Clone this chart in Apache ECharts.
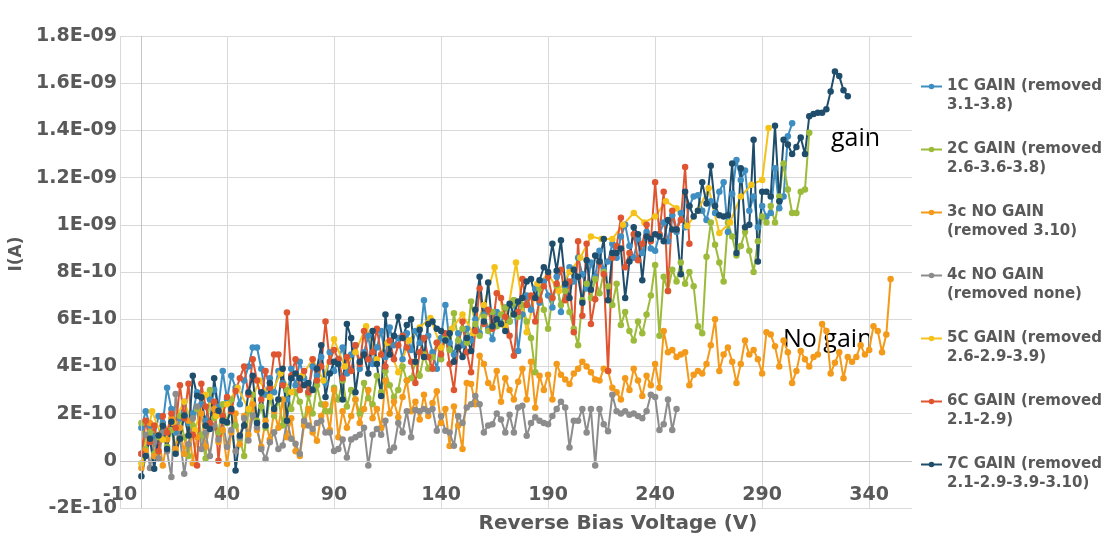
<!DOCTYPE html>
<html>
<head>
<meta charset="utf-8">
<script src="https://cdn.jsdelivr.net/npm/echarts@6/dist/echarts.min.js"></script>
<style>
html, body { margin: 0; padding: 0; background: #fff; }
#chart { width: 1109px; height: 538px; }
</style>
</head>
<body>
<div id="chart"></div>
<script>
// reverse bias sweep, currents are in units of 1e-10 A
var volts = [
  0, 2, 4, 6, 8, 10, 12, 14, 16, 18,
  20, 22, 24, 26, 28, 30, 32, 34, 36, 38,
  40, 42, 44, 46, 48, 50, 52, 54, 56, 58,
  60, 62, 64, 66, 68, 70, 72, 74, 76, 78,
  80, 82, 84, 86, 88, 90, 92, 94, 96, 98,
  100, 102, 104, 106, 108, 110, 112, 114, 116, 118,
  120, 122, 124, 126, 128, 130, 132, 134, 136, 138,
  140, 142, 144, 146, 148, 150, 152, 154, 156, 158,
  160, 162, 164, 166, 168, 170, 172, 174, 176, 178,
  180, 182, 184, 186, 188, 190, 192, 194, 196, 198,
  200, 202, 204, 206, 208, 210, 212, 214, 216, 218,
  220, 222, 224, 226, 228, 230, 232, 234, 236, 238,
  240, 242, 244, 246, 248, 250, 252, 254, 256, 258,
  260, 262, 264, 266, 268, 270, 272, 274, 276, 278,
  280, 282, 284, 286, 288, 290, 292, 294, 296, 298,
  300, 302, 304, 306, 308, 310, 312, 314, 316, 318,
  320, 322, 324, 326, 328, 330, 332, 334, 336, 338,
  340, 342, 344, 346, 348, 350
];
// 5C was logged with a coarser step
var yellowVolts = [
  0, 5, 10, 15, 20, 25, 30, 35, 40, 45,
  50, 55, 60, 65, 70, 75, 80, 85, 90, 95,
  100, 105, 110, 115, 120, 125, 130, 135, 140, 145,
  150, 155, 160, 165, 170, 175, 180, 185, 190, 195,
  200, 205, 210, 215, 220, 225, 230, 235, 240, 245,
  250, 255, 260, 265, 270, 275, 280, 285, 290, 293
];

var i1C = [
  1.4, 2.1, 1.5, 1.0, 1.9, 1.6, 3.1, 2.2, 1.2, 1.8,
  2.5, 1.6, 2.0, 2.9, 2.4, 1.7, 2.6, 3.0, 2.3, 3.8,
  2.6, 3.6, 3.1, 2.4, 3.4, 4.0, 4.8, 4.8, 3.9, 2.8,
  3.5, 2.9, 3.8, 3.3, 2.6, 3.9, 3.2, 4.2, 3.5, 2.9,
  4.0, 3.6, 4.4, 3.3, 4.6, 3.8, 4.3, 4.8, 3.7, 4.5,
  4.9, 3.9, 4.6, 5.3, 4.1, 4.8, 5.5, 4.4, 5.65, 4.9,
  5.2, 4.3, 5.4, 4.7, 5.5, 5.0, 6.8, 5.3, 4.6, 3.9,
  5.2, 6.6, 5.0, 4.5, 5.4, 4.9, 5.6, 5.1, 6.0, 5.4,
  6.2, 5.6, 5.15, 6.3, 5.8, 6.5, 5.9, 6.8, 4.65, 6.2,
  7.0, 6.4, 7.3, 6.7, 7.6, 7.0, 6.5, 7.8, 6.3, 7.4,
  8.2, 7.6, 8.6, 7.9, 7.3, 8.4, 7.8, 8.9, 8.1, 8.45,
  9.2, 8.6, 9.5, 10.0, 9.1, 8.6, 9.4, 8.8, 9.7, 9.0,
  8.9, 9.6, 10.1, 9.3, 10.4, 9.7, 10.5, 9.9, 10.8, 11.2,
  11.25, 10.6, 10.2, 11.0, 10.5, 11.4, 11.8, 9.7, 11.3, 12.75,
  11.9, 12.3, 10.6, 11.2, 9.9, 10.8, 10.35, 10.5, 12.4, 10.7,
  11.2, 13.75, 14.3
];
var i2C = [
  1.6, 0.5, 1.2, 0.3, 1.0, 1.5, 0.6, 1.3, 0.4, 1.9,
  1.0, 0.2, 1.5, 2.2, 1.1, 0.1, 3.0, 1.8, 1.2, 2.4,
  1.6, 2.6, 1.5, 0.9, 0.2, 2.1, 2.8, 1.7, 2.3, 1.4,
  2.7, 1.9, 2.6, 1.5, 3.0, 2.2, 2.9, 2.5, 1.6, 2.8,
  2.0, 3.2, 2.4, 2.1, 2.1, 3.1, 2.6, 3.4, 2.3, 3.0,
  2.6, 2.0, 3.3, 2.65, 2.4, 3.6, 2.9, 3.8, 3.2, 2.7,
  3.0, 4.0, 3.4, 3.5, 4.2, 3.6, 4.5, 3.9, 4.4, 5.0,
  4.3, 5.2, 4.7, 6.25, 5.1, 5.6, 5.0, 6.75, 5.8, 5.3,
  6.1, 5.5, 6.3, 5.7, 6.2, 6.5, 5.9, 6.8, 6.1, 6.6,
  5.9, 5.2, 3.75, 7.3, 6.4, 5.6, 6.9, 7.4, 6.6, 7.2,
  6.3, 5.6, 4.9, 6.8, 7.5, 6.9, 7.7, 7.1, 8.0, 7.4,
  6.6, 7.5, 5.75, 6.3, 5.5, 5.1, 5.9, 5.4, 6.2, 7.0,
  8.3, 5.3, 7.8, 7.2, 8.1, 7.6, 8.4, 7.5, 8.0, 7.4,
  5.7, 5.4, 8.65, 10.1, 9.15, 8.4, 7.6, 10.1, 9.5, 8.7,
  9.1, 9.7, 8.9, 8.0, 9.3, 10.35, 10.1, 10.8, 10.1, 11.2,
  12.6, 11.5, 10.5, 10.5, 11.4, 11.5, 13.9
];
var i3c = [
  -0.3, 0.4, 1.6, 0.2, 1.1, -0.2, 0.9, 1.8, 0.5, 1.4,
  0.3, 1.7, -0.1, 1.0, 2.0, 0.6, 1.5, 2.2, 0.8, 1.3,
  -0.13, 1.2, 2.0, 0.7, 1.9, 1.1, 2.4, 1.3, 0.6, 1.7,
  0.9, 2.1, 1.4, 2.6, 1.0, 1.8, 0.4, 0.2, 1.5, 2.2,
  1.2, 0.85, 1.9, 2.4, 1.3, 3.0, 1.0, 2.1, 1.4, 1.9,
  2.6, 1.6, 2.2, 3.0, 1.8, 2.2, 1.4, 3.4, 2.0, 2.5,
  1.85, 2.7, 3.4, 2.1, 2.5, 1.75, 2.8, 1.9, 2.45, 2.95,
  1.6, 2.2, 0.63, 2.3, 1.5, 0.5, 3.3, 3.25, 2.4, 4.45,
  4.1, 3.3, 3.1, 3.8, 2.5, 3.5, 3.0, 2.6, 3.35, 3.9,
  2.6, 4.2, 2.25, 3.6, 3.0, 3.65, 2.6, 4.1, 3.65, 3.45,
  3.25, 3.7, 3.9, 4.2, 4.0, 3.75, 3.45, 3.4, 3.9, 3.8,
  3.1, 2.9, 2.6, 3.5, 3.0, 3.9, 3.4, 2.75, 3.6, 3.2,
  4.1, 3.1, 5.5, 4.6, 4.7, 4.4, 4.5, 4.6, 3.2, 3.65,
  3.8, 3.7, 4.1, 4.9, 6.0, 3.8, 4.5, 4.8, 4.2, 3.3,
  4.1, 5.1, 4.5, 4.7, 4.3, 3.7, 5.45, 5.35, 4.85, 4.0,
  5.1, 4.6, 3.3, 3.8, 4.65, 4.3, 4.0, 4.4, 4.5, 5.8,
  5.5, 3.7, 4.15, 4.6, 3.5, 4.4, 4.2, 4.4, 4.9, 4.5,
  4.7, 5.7, 5.5, 4.6, 5.35, 7.7
];
var i4c = [
  0.3, 1.1, -0.3, 0.8, 0.1, 1.2, 0.4, -0.69, 2.83, 1.0,
  -0.55, 0.7, 1.8, 2.3, 0.5, 1.2, 0.2, 1.5, 0.9, 1.7,
  0.6, 1.3, 0.4, 1.0, 1.8, 0.86, 1.92, 1.42, 0.5, 0.08,
  0.79, 1.21, 0.5, 0.65, 1.7, 0.93, 0.72, 0.3, 1.7, 1.5,
  1.35, 1.6, 1.7, 1.2, 1.2, 0.42, 0.5, 0.9, 0.14, 0.9,
  1.0, 1.1, 1.4, -0.2, 1.1, 1.35, 1.1, 1.7, 0.42, 0.56,
  1.6, 1.2, 2.1, 1.0, 2.15, 2.1, 2.2, 2.1, 2.2, 1.27,
  1.9, 1.27, 1.2, 0.64, 1.9, 1.6, 2.26, 2.4, 2.75, 2.4,
  1.2, 1.5, 1.55, 2.0, 1.75, 1.2, 1.95, 1.2, 2.26, 2.33,
  1.06, 1.6, 1.85, 1.7, 1.6, 1.55, 1.9, 2.2, 2.5, 2.26,
  0.56, 1.7, 1.7, 2.2, 1.2, 2.2, -0.2, 2.2, 1.55, 1.25,
  2.8, 2.1, 2.0, 2.1, 1.95, 2.0, 1.9, 1.8, 2.1, 2.8,
  2.7, 1.3, 1.55, 2.6, 1.3, 2.2
];
var i5C = [
  -0.1, 2.1, 0.9, 1.6, 2.5, 1.3, 2.8, 1.9, 2.4, 3.1,
  2.2, 3.4, 2.7, 3.7, 2.9, 3.6, 4.3, 3.4, 5.15, 4.0,
  4.6, 5.7, 4.3, 5.0, 3.75, 5.1, 5.65, 6.05, 4.8, 5.6,
  6.2, 5.4, 6.6, 8.2, 5.7, 8.4, 5.45, 7.5, 7.9, 7.2,
  8.0, 8.6, 9.5, 9.4, 9.4, 10.0, 10.5, 10.1, 10.35, 11.0,
  10.7, 9.95, 10.6, 11.55, 9.65, 10.1, 11.2, 11.7, 11.9, 14.1
];
var i6C = [
  0.3, 1.7, 0.8, 1.5, 0.4, 1.9, 1.2, 2.0, 1.4, 3.2,
  1.8, 3.27, 1.1, -0.2, 3.27, 2.3, 1.6, 2.5, 0.0, 1.9,
  2.7, 2.1, 2.96, 3.5, 4.0, 2.8, 4.3, 3.4, 2.6, 3.8,
  3.1, 4.5, 4.5, 3.2, 6.28, 3.6, 4.3, 3.0, 3.8, 2.9,
  4.3, 3.4, 4.0, 5.9, 4.2, 4.7, 4.3, 3.5, 4.4, 3.8,
  4.9, 4.1, 5.5, 4.3, 4.6, 5.6, 4.5, 4.0, 5.1, 4.3,
  4.9, 5.3, 4.8, 4.2, 3.3, 4.6, 5.2, 4.4, 3.9, 5.0,
  4.5, 5.4, 4.1, 3.0, 4.8, 5.9, 4.6, 3.75, 5.5, 7.3,
  5.8, 6.4, 5.6, 7.1, 6.9, 6.1, 5.3, 4.45, 6.3, 7.7,
  6.6, 7.0, 5.9, 6.8, 7.4, 7.8, 6.9, 7.5, 8.1, 6.8,
  7.6, 5.45, 9.3, 6.15, 9.2, 5.8, 6.85, 8.4, 7.9, 3.8,
  8.6, 9.1, 10.3, 8.2, 8.8, 9.6, 8.5, 9.2, 10.0, 9.3,
  11.8, 9.6, 11.4, 7.2, 10.6, 9.8, 10.2, 12.45, 9.2
];
var i7C = [
  -0.65, 0.2, 0.93, -0.34, 1.07, 1.49, 0.5, 1.65, 0.3, 0.93,
  1.92, 1.07, 3.6, 2.76, 2.69, 1.49, 1.35, 3.5, 2.12, 1.7,
  1.63, 2.2, -0.41, 1.07, 1.5, 2.9, 3.6, 1.6, 2.9, 1.5,
  3.3, 2.2, 2.6, 3.9, 1.7, 3.5, 3.7, 3.5, 3.2, 3.3,
  3.0, 3.9, 4.9, 2.7, 3.7, 4.2, 4.1, 2.6, 5.8, 5.2,
  2.9, 4.2, 4.5, 3.7, 5.5, 4.1, 2.75, 6.2, 4.5, 5.3,
  6.1, 5.2, 5.75, 6.0, 4.2, 5.55, 4.4, 5.8, 5.9, 5.6,
  5.5, 5.1, 5.4, 4.2, 4.8, 4.4, 5.2, 4.65, 6.4, 7.8,
  5.9, 7.55, 5.7, 6.0, 5.8, 5.5, 6.65, 6.2, 6.75, 6.9,
  7.6, 7.7, 6.9, 7.65, 8.2, 8.0, 9.2, 8.05, 9.35, 7.5,
  6.9, 8.1, 7.8, 6.7, 8.5, 7.25, 8.7, 8.45, 9.4, 6.8,
  8.8, 8.8, 9.0, 6.9, 8.45, 9.9, 9.6, 7.65, 9.5, 9.4,
  9.6, 9.5, 9.3, 10.2, 9.8, 9.8, 7.9, 11.4, 10.8, 10.35,
  10.6, 11.8, 10.9, 12.5, 10.8, 10.4, 10.35, 10.4, 12.6, 8.8,
  12.4, 9.9, 10.0, 13.6, 8.45, 11.4, 11.4, 11.2, 14.2, 11.0,
  13.6, 13.4, 13.0, 13.3, 13.7, 13.0, 14.6, 14.7, 14.75, 14.75,
  14.9, 15.65, 16.5, 16.3, 15.7, 15.45
];

var seriesNames = [
  '1C GAIN (removed 3.1-3.8)',
  '2C GAIN (removed 2.6-3.6-3.8)',
  '3c NO GAIN (removed 3.10)',
  '4c NO GAIN (removed none)',
  '5C GAIN (removed 2.6-2.9-3.9)',
  '6C GAIN (removed 2.1-2.9)',
  '7C GAIN (removed 2.1-2.9-3.9-3.10)'
];
var legendLabels = [
  '1C GAIN (removed\n3.1-3.8)',
  '2C GAIN (removed\n2.6-3.6-3.8)',
  '3c NO GAIN\n(removed 3.10)',
  '4c NO GAIN\n(removed none)',
  '5C GAIN (removed\n2.6-2.9-3.9)',
  '6C GAIN (removed\n2.1-2.9)',
  '7C GAIN (removed\n2.1-2.9-3.9-3.10)'
];
var seriesValues = [i1C, i2C, i3c, i4c, i5C, i6C, i7C];
var seriesVolts = [volts, volts, volts, volts, yellowVolts, volts, volts];
var seriesColors = ['#3E8EC2', '#9DBB3A', '#F39A1B', '#8C8C8C', '#F5C21A', '#DE5530', '#1F4D6C'];

var xTickLabels = ['-10', '40', '90', '140', '190', '240', '290', '340'];
var yTickLabels = ['-2E-10', '0', '2E-10', '4E-10', '6E-10', '8E-10', '1E-09', '1.2E-09', '1.4E-09', '1.6E-09', '1.8E-09'];

var FONT = 'DejaVu Sans';
var GREY = '#595959';

var chart = echarts.init(document.getElementById('chart'));

var series = seriesValues.map(function (vals, k) {
  var xs = seriesVolts[k];
  var s = {
    name: seriesNames[k],
    type: 'line',
    symbol: 'circle',
    symbolSize: 6.5,
    color: seriesColors[k],
    lineStyle: { width: 2 },
    emphasis: { disabled: true },
    data: vals.map(function (v, i) { return [xs[i], v]; })
  };
  if (k === 0) {
    // the original axes cross at 0 V / 0 A
    s.markLine = {
      silent: true,
      symbol: 'none',
      label: { show: false },
      lineStyle: { color: '#C4C4C4', width: 1, type: 'solid' },
      data: [{ xAxis: 0 }, { yAxis: 0 }]
    };
  }
  return s;
});

var option = {
  backgroundColor: '#fff',
  animation: false,
  grid: { left: 120, right: 197, top: 36, bottom: 30, outerBoundsMode: 'none' },
  legend: {
    orient: 'vertical',
    left: 915,
    top: 53,
    itemWidth: 21,
    itemHeight: 7,
    itemGap: 6,
    data: seriesNames,
    // leading blank line keeps the marker level with the first text line
    formatter: function (name) { return '\n' + legendLabels[seriesNames.indexOf(name)]; },
    textStyle: {
      fontFamily: FONT, fontWeight: 'bold', fontSize: 15, color: GREY, lineHeight: 19
    }
  },
  xAxis: {
    type: 'value',
    min: -10,
    max: 360,
    interval: 50,
    name: 'Reverse Bias Voltage (V)',
    nameLocation: 'middle',
    nameGap: 3,
    nameTextStyle: { fontFamily: FONT, fontWeight: 'bold', fontSize: 20, color: GREY, padding: [0, 0, 0, 204] },
    axisLine: { show: false, onZero: false },
    axisTick: { show: false },
    axisLabel: {
      fontFamily: FONT, fontWeight: 'bold', fontSize: 19, color: GREY, margin: -22,
      showMinLabel: true, showMaxLabel: false,
      formatter: function (v) {
        var k = (v + 10) / 50;
        return Number.isInteger(k) && xTickLabels[k] ? xTickLabels[k] : '';
      }
    },
    splitLine: { show: true, showMaxLine: false, lineStyle: { color: '#D9D9D9', width: 1 } }
  },
  yAxis: {
    type: 'value',
    min: -2,
    max: 18,
    interval: 2,
    name: 'I(A)',
    nameLocation: 'middle',
    nameGap: 90,
    nameTextStyle: { fontFamily: FONT, fontWeight: 'bold', fontSize: 17, color: GREY, padding: [0, 0, 0, 36] },
    axisLine: { show: false, onZero: false },
    axisTick: { show: false },
    axisLabel: {
      fontFamily: FONT, fontWeight: 'bold', fontSize: 19, color: GREY, margin: 3,
      formatter: function (v) { return yTickLabels[Math.round((v + 2) / 2)] || ''; }
    },
    splitLine: { show: true, lineStyle: { color: '#D9D9D9', width: 1 } }
  },
  graphic: [
    { type: 'text', left: 831, top: 126, style: { text: 'gain', font: '25px "Open Sans"', fill: '#000' } },
    { type: 'text', left: 783, top: 327, style: { text: 'No gain', font: '25px "Open Sans"', fill: '#000' } }
  ],
  series: series
};

chart.setOption(option);
</script>
</body>
</html>
